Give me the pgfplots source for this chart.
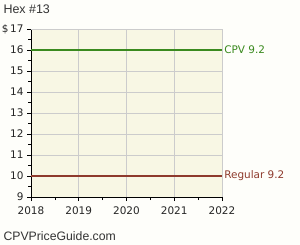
\documentclass[border=0pt]{standalone}
\usepackage{pgfplots}
\pgfplotsset{compat=1.18}
\usepackage{fontspec}
\setmainfont{DejaVu Sans}
\newfontfamily\arialfont{Liberation Sans}
\definecolor{plotbg}{HTML}{F8F7E4}
\definecolor{pagebg}{HTML}{FEFEFA}
\definecolor{gridc}{HTML}{CCCCCC}
\definecolor{cpvgreen}{HTML}{3A8A1E}
\definecolor{regred}{HTML}{8E3A2C}
\begin{document}
\begin{tikzpicture}[x=1bp,y=1bp]
\fill[pagebg] (0,0) rectangle (300,245);
\useasboundingbox (0,0) rectangle (300,245);
\node[anchor=west,font=\arialfont\fontsize{12.5}{14}\selectfont,text=black!80] at (0,235.5) {Hex \#13};
\node[anchor=west,font=\arialfont\fontsize{12.3}{14}\selectfont,text=black!80] at (0,8.5) {CPVPriceGuide.com};
\begin{axis}[
  at={(31bp,48bp)}, anchor=south west,
  scale only axis, width=191bp, height=168bp,
  xmin=2018, xmax=2022, ymin=9, ymax=17,
  axis background/.style={fill=plotbg},
  xtick={2018,2019,2020,2021,2022},
  minor xtick={2018.5,2019.5,2020.5,2021.5},
  ytick={9,10,...,17},
  minor ytick={9.5,10.5,...,16.5},
  yticklabels={9,10,11,12,13,14,15,16,\$\,17},
  xticklabel style={/pgf/number format/1000 sep={}, yshift=-2bp},
  /pgf/number format/assume math mode=true,
  tick label style={font=\fontsize{10.5}{12}\selectfont, text=black!85},
  grid=major, major grid style={gridc, line width=0.8pt},
  axis lines*=left,
  axis line style={black, line width=0.8pt},
  tick align=outside,
  major tick length=4bp, minor tick length=3bp,
  tick style={black, line width=0.6pt},
  clip=false,
]
\addplot[gridc, line width=0.8pt, forget plot] coordinates {(2018,17) (2022,17)};
\addplot[gridc, line width=0.8pt, forget plot] coordinates {(2022,9) (2022,17)};
\addplot[cpvgreen, line width=1.6pt] coordinates {(2018,16) (2022,16)}
  node[pos=1, anchor=west, inner sep=1.5bp, font=\fontsize{10.5}{12}\selectfont] {CPV 9.2};
\addplot[regred, line width=1.6pt] coordinates {(2018,10) (2022,10)}
  node[pos=1, anchor=west, inner sep=1.5bp, font=\fontsize{10.5}{12}\selectfont] {Regular 9.2};
\end{axis}
\end{tikzpicture}
\end{document}
